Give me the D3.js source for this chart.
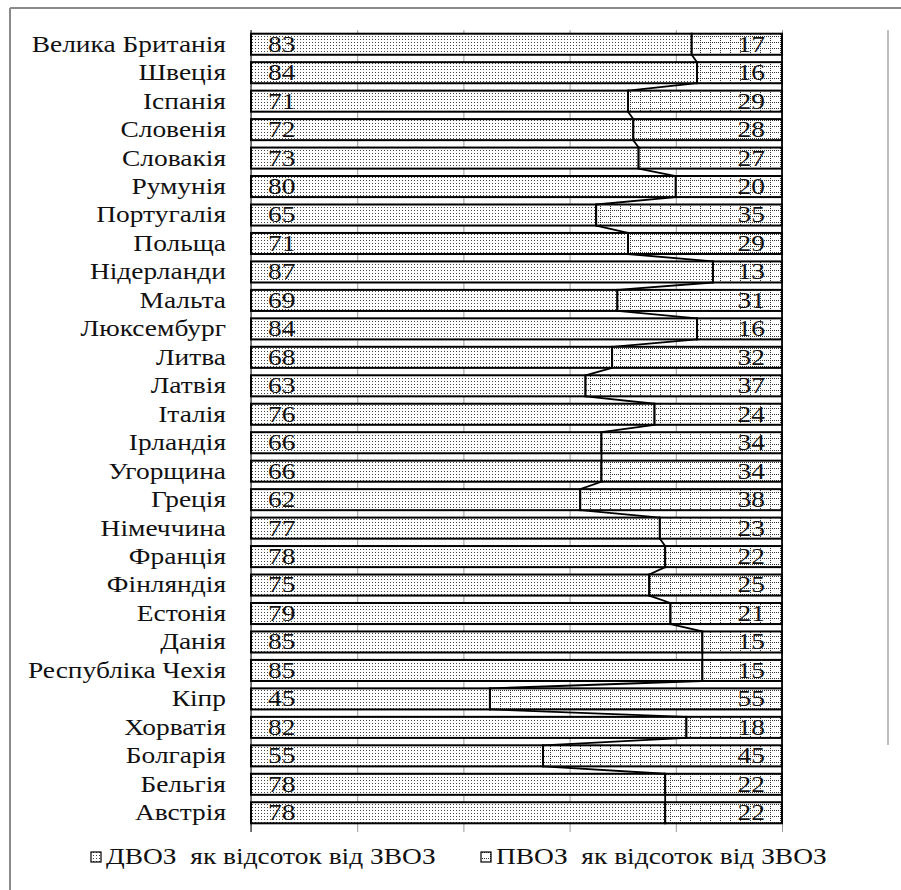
<!DOCTYPE html>
<html><head><meta charset="utf-8">
<script src="https://cdn.jsdelivr.net/npm/d3@7/dist/d3.min.js"></script>
<style>body{margin:0;background:#fff}svg{display:block}</style>
</head><body><svg id="c" width="901" height="890"></svg>
<script>
const categories = ["Велика Британія","Швеція","Іспанія","Словенія","Словакія","Румунія","Португалія","Польща","Нідерланди","Мальта","Люксембург","Литва","Латвія","Італія","Ірландія","Угорщина","Греція","Німеччина","Франція","Фінляндія","Естонія","Данія","Республіка Чехія","Кіпр","Хорватія","Болгарія","Бельгія","Австрія"];
const dvoz = [83,84,71,72,73,80,65,71,87,69,84,68,63,76,66,66,62,77,78,75,79,85,85,45,82,55,78,78];
const pvoz = [17,16,29,28,27,20,35,29,13,31,16,32,37,24,34,34,38,23,22,25,21,15,15,55,18,45,22,22];
const seriesNames = ["ДВОЗ  як відсоток від ЗВОЗ","ПВОЗ  як відсоток від ЗВОЗ"];
const xTicks = [0,20,40,60,80,100];

const svg = d3.select("#c");
const SX = 1.22, FS = 22.5;
const defs = svg.append("defs");
const p1 = defs.append("pattern").attr("id","pd").attr("patternUnits","userSpaceOnUse").attr("width",3).attr("height",3);
p1.append("rect").attr("width",3).attr("height",3).attr("fill","#fff");
p1.append("rect").attr("width",1).attr("height",1).attr("fill","#444");
const p2 = defs.append("pattern").attr("id","pp").attr("patternUnits","userSpaceOnUse").attr("width",10).attr("height",6);
p2.append("rect").attr("width",10).attr("height",6).attr("fill","#fff");
for(let i=0;i<10;i+=2) p2.append("rect").attr("x",i).attr("y",0).attr("width",1).attr("height",1).attr("fill","#333");
for(let j=0;j<6;j+=2) p2.append("rect").attr("x",0).attr("y",j).attr("width",1).attr("height",1).attr("fill","#333");

svg.append("line").attr("x1",10).attr("x2",901).attr("y1",8).attr("y2",8).attr("stroke","#8a8a8a").attr("stroke-width",2);
svg.append("line").attr("x1",10).attr("x2",10).attr("y1",8).attr("y2",890).attr("stroke","#8a8a8a").attr("stroke-width",2);
svg.append("line").attr("x1",888).attr("x2",888).attr("y1",30).attr("y2",745).attr("stroke","#aaa").attr("stroke-width",1.5);

const x = d3.scaleLinear().domain([0,100]).range([251,782]);
const y = d3.scaleBand().domain(categories).range([30,827]).paddingInner(0.26).paddingOuter(0.13);
const bh = y.bandwidth();

svg.append("g").attr("transform","translate(0,30)")
  .call(d3.axisBottom(x).tickValues(xTicks).tickSize(802).tickFormat(""))
  .call(g=>g.select(".domain").remove())
  .call(g=>g.selectAll("line").attr("stroke","#9a9a9a").attr("stroke-width",1));
svg.append("line").attr("x1",x(0)).attr("x2",x(0)).attr("y1",30).attr("y2",832).attr("stroke","#555").attr("stroke-width",1.5);

const rows = categories.map((c,i)=>({c, a:dvoz[i], b:pvoz[i]}));
const g = svg.append("g");
g.selectAll("rect.a").data(rows).join("rect").attr("class","a")
  .attr("x",x(0)).attr("y",d=>y(d.c)).attr("width",d=>x(d.a)-x(0)).attr("height",bh)
  .attr("fill","url(#pd)").attr("stroke","#000").attr("stroke-width",2);
g.selectAll("rect.b").data(rows).join("rect").attr("class","b")
  .attr("x",d=>x(d.a)).attr("y",d=>y(d.c)).attr("width",d=>x(d.a+d.b)-x(d.a)).attr("height",bh)
  .attr("fill","url(#pp)").attr("stroke","#000").attr("stroke-width",2);

const segs = [];
for(let i=0;i<rows.length-1;i++){
  segs.push({x1:x(rows[i].a),y1:y(rows[i].c)+bh,x2:x(rows[i+1].a),y2:y(rows[i+1].c)});
  segs.push({x1:x(rows[i].a+rows[i].b),y1:y(rows[i].c)+bh,x2:x(rows[i+1].a+rows[i+1].b),y2:y(rows[i+1].c)});
}
g.selectAll("line.s").data(segs).join("line").attr("class","s")
  .attr("x1",d=>d.x1).attr("y1",d=>d.y1).attr("x2",d=>d.x2).attr("y2",d=>d.y2)
  .attr("stroke","#000").attr("stroke-width",1.8);

function txt(sel){ return sel.style("font-family","Liberation Serif").attr("font-size",FS).attr("fill","#111").style("white-space","pre"); }
function stx(sel, ax, ay){ sel.attr("transform",`translate(${ax},${ay}) scale(${SX},1)`); }
txt(svg.append("g").selectAll("text").data(rows).join("text"))
  .each(function(d){ stx(d3.select(this),226,y(d.c)+bh/2); })
  .attr("text-anchor","end").attr("dy","0.33em").text(d=>d.c);
txt(svg.append("g").selectAll("text").data(rows).join("text"))
  .each(function(d){ stx(d3.select(this),x(0)+17,y(d.c)+bh/2); })
  .attr("dy","0.33em").text(d=>d.a);
txt(svg.append("g").selectAll("text").data(rows).join("text"))
  .each(function(d){ stx(d3.select(this),x(100)-17,y(d.c)+bh/2); })
  .attr("text-anchor","end").attr("dy","0.33em").text(d=>d.b);

const leg = [{n:seriesNames[0],f:"url(#pd)",x:91},{n:seriesNames[1],f:"url(#pp)",x:481}];
const lg = svg.append("g").selectAll("g").data(leg).join("g");
lg.append("rect").attr("x",d=>d.x).attr("y",852).attr("width",10).attr("height",10).attr("fill",d=>d.f).attr("stroke","#000").attr("stroke-width",1.2);
txt(lg.append("text")).each(function(d){ stx(d3.select(this),d.x+15,857); })
  .attr("dy","0.33em").text(d=>d.n);
</script></body></html>
